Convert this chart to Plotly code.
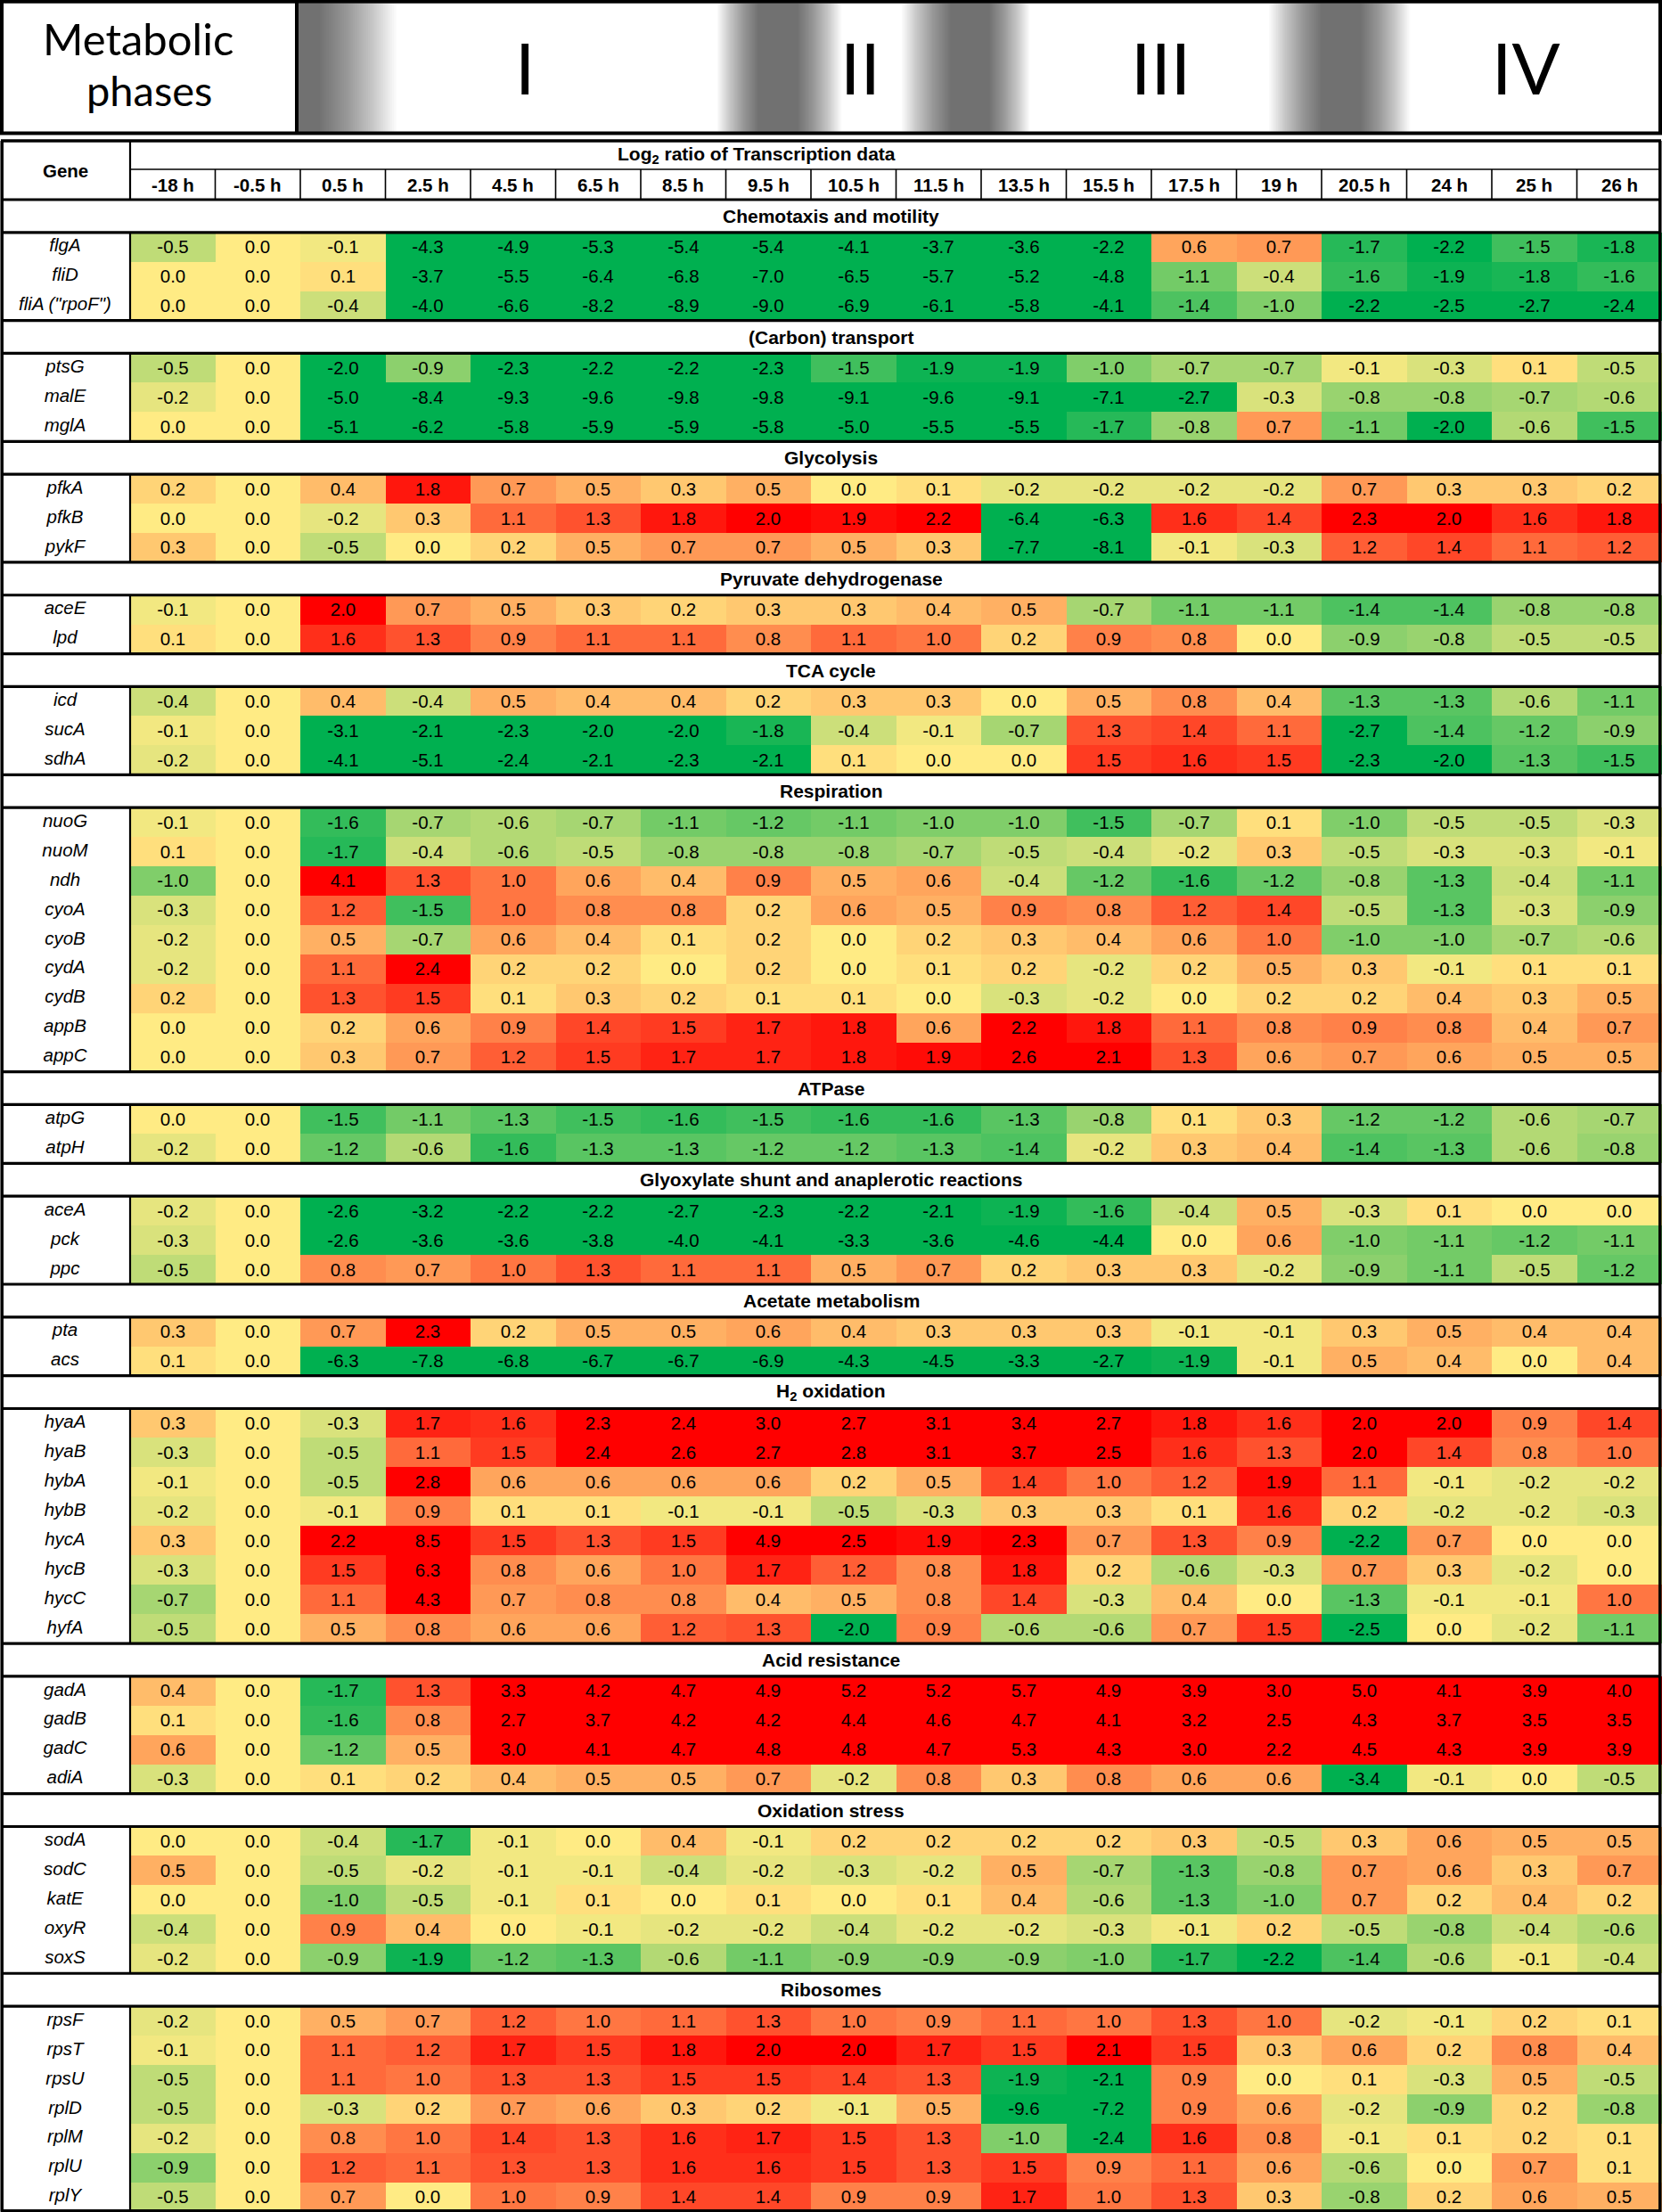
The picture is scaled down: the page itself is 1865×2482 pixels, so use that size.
import math
import plotly.graph_objects as go

# ---------------- data ----------------
time_labels = ["-18 h", "-0.5 h", "0.5 h", "2.5 h", "4.5 h", "6.5 h", "8.5 h", "9.5 h", "10.5 h",
               "11.5 h", "13.5 h", "15.5 h", "17.5 h", "19 h", "20.5 h", "24 h", "25 h", "26 h"]
phase_labels = ["I", "II", "III", "IV"]

chemotaxis_genes = ["flgA", "fliD", 'fliA ("rpoF")']
chemotaxis_values = [
    [-0.5, 0.0, -0.1, -4.3, -4.9, -5.3, -5.4, -5.4, -4.1, -3.7, -3.6, -2.2, 0.6, 0.7, -1.7, -2.2, -1.5, -1.8],
    [0.0, 0.0, 0.1, -3.7, -5.5, -6.4, -6.8, -7.0, -6.5, -5.7, -5.2, -4.8, -1.1, -0.4, -1.6, -1.9, -1.8, -1.6],
    [0.0, 0.0, -0.4, -4.0, -6.6, -8.2, -8.9, -9.0, -6.9, -6.1, -5.8, -4.1, -1.4, -1.0, -2.2, -2.5, -2.7, -2.4],
]
transport_genes = ["ptsG", "malE", "mglA"]
transport_values = [
    [-0.5, 0.0, -2.0, -0.9, -2.3, -2.2, -2.2, -2.3, -1.5, -1.9, -1.9, -1.0, -0.7, -0.7, -0.1, -0.3, 0.1, -0.5],
    [-0.2, 0.0, -5.0, -8.4, -9.3, -9.6, -9.8, -9.8, -9.1, -9.6, -9.1, -7.1, -2.7, -0.3, -0.8, -0.8, -0.7, -0.6],
    [0.0, 0.0, -5.1, -6.2, -5.8, -5.9, -5.9, -5.8, -5.0, -5.5, -5.5, -1.7, -0.8, 0.7, -1.1, -2.0, -0.6, -1.5],
]
glycolysis_genes = ["pfkA", "pfkB", "pykF"]
glycolysis_values = [
    [0.2, 0.0, 0.4, 1.8, 0.7, 0.5, 0.3, 0.5, 0.0, 0.1, -0.2, -0.2, -0.2, -0.2, 0.7, 0.3, 0.3, 0.2],
    [0.0, 0.0, -0.2, 0.3, 1.1, 1.3, 1.8, 2.0, 1.9, 2.2, -6.4, -6.3, 1.6, 1.4, 2.3, 2.0, 1.6, 1.8],
    [0.3, 0.0, -0.5, 0.0, 0.2, 0.5, 0.7, 0.7, 0.5, 0.3, -7.7, -8.1, -0.1, -0.3, 1.2, 1.4, 1.1, 1.2],
]
pdh_genes = ["aceE", "lpd"]
pdh_values = [
    [-0.1, 0.0, 2.0, 0.7, 0.5, 0.3, 0.2, 0.3, 0.3, 0.4, 0.5, -0.7, -1.1, -1.1, -1.4, -1.4, -0.8, -0.8],
    [0.1, 0.0, 1.6, 1.3, 0.9, 1.1, 1.1, 0.8, 1.1, 1.0, 0.2, 0.9, 0.8, 0.0, -0.9, -0.8, -0.5, -0.5],
]
tca_genes = ["icd", "sucA", "sdhA"]
tca_values = [
    [-0.4, 0.0, 0.4, -0.4, 0.5, 0.4, 0.4, 0.2, 0.3, 0.3, 0.0, 0.5, 0.8, 0.4, -1.3, -1.3, -0.6, -1.1],
    [-0.1, 0.0, -3.1, -2.1, -2.3, -2.0, -2.0, -1.8, -0.4, -0.1, -0.7, 1.3, 1.4, 1.1, -2.7, -1.4, -1.2, -0.9],
    [-0.2, 0.0, -4.1, -5.1, -2.4, -2.1, -2.3, -2.1, 0.1, 0.0, 0.0, 1.5, 1.6, 1.5, -2.3, -2.0, -1.3, -1.5],
]
respiration_genes = ["nuoG", "nuoM", "ndh", "cyoA", "cyoB", "cydA", "cydB", "appB", "appC"]
respiration_values = [
    [-0.1, 0.0, -1.6, -0.7, -0.6, -0.7, -1.1, -1.2, -1.1, -1.0, -1.0, -1.5, -0.7, 0.1, -1.0, -0.5, -0.5, -0.3],
    [0.1, 0.0, -1.7, -0.4, -0.6, -0.5, -0.8, -0.8, -0.8, -0.7, -0.5, -0.4, -0.2, 0.3, -0.5, -0.3, -0.3, -0.1],
    [-1.0, 0.0, 4.1, 1.3, 1.0, 0.6, 0.4, 0.9, 0.5, 0.6, -0.4, -1.2, -1.6, -1.2, -0.8, -1.3, -0.4, -1.1],
    [-0.3, 0.0, 1.2, -1.5, 1.0, 0.8, 0.8, 0.2, 0.6, 0.5, 0.9, 0.8, 1.2, 1.4, -0.5, -1.3, -0.3, -0.9],
    [-0.2, 0.0, 0.5, -0.7, 0.6, 0.4, 0.1, 0.2, 0.0, 0.2, 0.3, 0.4, 0.6, 1.0, -1.0, -1.0, -0.7, -0.6],
    [-0.2, 0.0, 1.1, 2.4, 0.2, 0.2, 0.0, 0.2, 0.0, 0.1, 0.2, -0.2, 0.2, 0.5, 0.3, -0.1, 0.1, 0.1],
    [0.2, 0.0, 1.3, 1.5, 0.1, 0.3, 0.2, 0.1, 0.1, 0.0, -0.3, -0.2, 0.0, 0.2, 0.2, 0.4, 0.3, 0.5],
    [0.0, 0.0, 0.2, 0.6, 0.9, 1.4, 1.5, 1.7, 1.8, 0.6, 2.2, 1.8, 1.1, 0.8, 0.9, 0.8, 0.4, 0.7],
    [0.0, 0.0, 0.3, 0.7, 1.2, 1.5, 1.7, 1.7, 1.8, 1.9, 2.6, 2.1, 1.3, 0.6, 0.7, 0.6, 0.5, 0.5],
]
atpase_genes = ["atpG", "atpH"]
atpase_values = [
    [0.0, 0.0, -1.5, -1.1, -1.3, -1.5, -1.6, -1.5, -1.6, -1.6, -1.3, -0.8, 0.1, 0.3, -1.2, -1.2, -0.6, -0.7],
    [-0.2, 0.0, -1.2, -0.6, -1.6, -1.3, -1.3, -1.2, -1.2, -1.3, -1.4, -0.2, 0.3, 0.4, -1.4, -1.3, -0.6, -0.8],
]
glyoxylate_genes = ["aceA", "pck", "ppc"]
glyoxylate_values = [
    [-0.2, 0.0, -2.6, -3.2, -2.2, -2.2, -2.7, -2.3, -2.2, -2.1, -1.9, -1.6, -0.4, 0.5, -0.3, 0.1, 0.0, 0.0],
    [-0.3, 0.0, -2.6, -3.6, -3.6, -3.8, -4.0, -4.1, -3.3, -3.6, -4.6, -4.4, 0.0, 0.6, -1.0, -1.1, -1.2, -1.1],
    [-0.5, 0.0, 0.8, 0.7, 1.0, 1.3, 1.1, 1.1, 0.5, 0.7, 0.2, 0.3, 0.3, -0.2, -0.9, -1.1, -0.5, -1.2],
]
acetate_genes = ["pta", "acs"]
acetate_values = [
    [0.3, 0.0, 0.7, 2.3, 0.2, 0.5, 0.5, 0.6, 0.4, 0.3, 0.3, 0.3, -0.1, -0.1, 0.3, 0.5, 0.4, 0.4],
    [0.1, 0.0, -6.3, -7.8, -6.8, -6.7, -6.7, -6.9, -4.3, -4.5, -3.3, -2.7, -1.9, -0.1, 0.5, 0.4, 0.0, 0.4],
]
h2_genes = ["hyaA", "hyaB", "hybA", "hybB", "hycA", "hycB", "hycC", "hyfA"]
h2_values = [
    [0.3, 0.0, -0.3, 1.7, 1.6, 2.3, 2.4, 3.0, 2.7, 3.1, 3.4, 2.7, 1.8, 1.6, 2.0, 2.0, 0.9, 1.4],
    [-0.3, 0.0, -0.5, 1.1, 1.5, 2.4, 2.6, 2.7, 2.8, 3.1, 3.7, 2.5, 1.6, 1.3, 2.0, 1.4, 0.8, 1.0],
    [-0.1, 0.0, -0.5, 2.8, 0.6, 0.6, 0.6, 0.6, 0.2, 0.5, 1.4, 1.0, 1.2, 1.9, 1.1, -0.1, -0.2, -0.2],
    [-0.2, 0.0, -0.1, 0.9, 0.1, 0.1, -0.1, -0.1, -0.5, -0.3, 0.3, 0.3, 0.1, 1.6, 0.2, -0.2, -0.2, -0.3],
    [0.3, 0.0, 2.2, 8.5, 1.5, 1.3, 1.5, 4.9, 2.5, 1.9, 2.3, 0.7, 1.3, 0.9, -2.2, 0.7, 0.0, 0.0],
    [-0.3, 0.0, 1.5, 6.3, 0.8, 0.6, 1.0, 1.7, 1.2, 0.8, 1.8, 0.2, -0.6, -0.3, 0.7, 0.3, -0.2, 0.0],
    [-0.7, 0.0, 1.1, 4.3, 0.7, 0.8, 0.8, 0.4, 0.5, 0.8, 1.4, -0.3, 0.4, 0.0, -1.3, -0.1, -0.1, 1.0],
    [-0.5, 0.0, 0.5, 0.8, 0.6, 0.6, 1.2, 1.3, -2.0, 0.9, -0.6, -0.6, 0.7, 1.5, -2.5, 0.0, -0.2, -1.1],
]
acid_genes = ["gadA", "gadB", "gadC", "adiA"]
acid_values = [
    [0.4, 0.0, -1.7, 1.3, 3.3, 4.2, 4.7, 4.9, 5.2, 5.2, 5.7, 4.9, 3.9, 3.0, 5.0, 4.1, 3.9, 4.0],
    [0.1, 0.0, -1.6, 0.8, 2.7, 3.7, 4.2, 4.2, 4.4, 4.6, 4.7, 4.1, 3.2, 2.5, 4.3, 3.7, 3.5, 3.5],
    [0.6, 0.0, -1.2, 0.5, 3.0, 4.1, 4.7, 4.8, 4.8, 4.7, 5.3, 4.3, 3.0, 2.2, 4.5, 4.3, 3.9, 3.9],
    [-0.3, 0.0, 0.1, 0.2, 0.4, 0.5, 0.5, 0.7, -0.2, 0.8, 0.3, 0.8, 0.6, 0.6, -3.4, -0.1, 0.0, -0.5],
]
oxstress_genes = ["sodA", "sodC", "katE", "oxyR", "soxS"]
oxstress_values = [
    [0.0, 0.0, -0.4, -1.7, -0.1, 0.0, 0.4, -0.1, 0.2, 0.2, 0.2, 0.2, 0.3, -0.5, 0.3, 0.6, 0.5, 0.5],
    [0.5, 0.0, -0.5, -0.2, -0.1, -0.1, -0.4, -0.2, -0.3, -0.2, 0.5, -0.7, -1.3, -0.8, 0.7, 0.6, 0.3, 0.7],
    [0.0, 0.0, -1.0, -0.5, -0.1, 0.1, 0.0, 0.1, 0.0, 0.1, 0.4, -0.6, -1.3, -1.0, 0.7, 0.2, 0.4, 0.2],
    [-0.4, 0.0, 0.9, 0.4, 0.0, -0.1, -0.2, -0.2, -0.4, -0.2, -0.2, -0.3, -0.1, 0.2, -0.5, -0.8, -0.4, -0.6],
    [-0.2, 0.0, -0.9, -1.9, -1.2, -1.3, -0.6, -1.1, -0.9, -0.9, -0.9, -1.0, -1.7, -2.2, -1.4, -0.6, -0.1, -0.4],
]
ribosome_genes = ["rpsF", "rpsT", "rpsU", "rplD", "rplM", "rplU", "rplY"]
ribosome_values = [
    [-0.2, 0.0, 0.5, 0.7, 1.2, 1.0, 1.1, 1.3, 1.0, 0.9, 1.1, 1.0, 1.3, 1.0, -0.2, -0.1, 0.2, 0.1],
    [-0.1, 0.0, 1.1, 1.2, 1.7, 1.5, 1.8, 2.0, 2.0, 1.7, 1.5, 2.1, 1.5, 0.3, 0.6, 0.2, 0.8, 0.4],
    [-0.5, 0.0, 1.1, 1.0, 1.3, 1.3, 1.5, 1.5, 1.4, 1.3, -1.9, -2.1, 0.9, 0.0, 0.1, -0.3, 0.5, -0.5],
    [-0.5, 0.0, -0.3, 0.2, 0.7, 0.6, 0.3, 0.2, -0.1, 0.5, -9.6, -7.2, 0.9, 0.6, -0.2, -0.9, 0.2, -0.8],
    [-0.2, 0.0, 0.8, 1.0, 1.4, 1.3, 1.6, 1.7, 1.5, 1.3, -1.0, -2.4, 1.6, 0.8, -0.1, 0.1, 0.2, 0.1],
    [-0.9, 0.0, 1.2, 1.1, 1.3, 1.3, 1.6, 1.6, 1.5, 1.3, 1.5, 0.9, 1.1, 0.6, -0.6, 0.0, 0.7, 0.1],
    [-0.5, 0.0, 0.7, 0.0, 1.0, 0.9, 1.4, 1.4, 0.9, 0.9, 1.7, 1.0, 1.3, 0.3, -0.8, 0.2, 0.6, 0.5],
]

section_titles = ["Chemotaxis and motility", "(Carbon) transport", "Glycolysis", "Pyruvate dehydrogenase",
                  "TCA cycle", "Respiration", "ATPase", "Glyoxylate shunt and anaplerotic reactions",
                  "Acetate metabolism", "H<sub>2</sub> oxidation", "Acid resistance", "Oxidation stress",
                  "Ribosomes"]
section_genes = [chemotaxis_genes, transport_genes, glycolysis_genes, pdh_genes, tca_genes,
                 respiration_genes, atpase_genes, glyoxylate_genes, acetate_genes, h2_genes,
                 acid_genes, oxstress_genes, ribosome_genes]
section_values = [chemotaxis_values, transport_values, glycolysis_values, pdh_values, tca_values,
                  respiration_values, atpase_values, glyoxylate_values, acetate_values, h2_values,
                  acid_values, oxstress_values, ribosome_values]

# ---------------- layout constants (pixels) ----------------
W, H = 1865, 2482
GENE_W = 146.0
NCOL = len(time_labels)
COL_W = (W - GENE_W) / NCOL
T_TOP, T_MID, T_HDR = 158.0, 190.0, 224.0
SEC_H, ROW_H = 36.8, 32.95
BOX_BOTTOM = 149.5
DIVIDER_X = 333.0
FONT = "Liberation Sans, Arial, sans-serif"
CAL = "Lato, Carlito, sans-serif"

x_edges = [GENE_W + i * COL_W for i in range(NCOL + 1)]
x_centers = [(x_edges[i] + x_edges[i + 1]) / 2 for i in range(NCOL)]

y_edges = [T_HDR]
z_rows, text_rows = [], []
gene_y, gene_lbl = [], []
sec_centers, sec_bands, data_blocks = [], [], []
y = T_HDR
for title, genes, vals in zip(section_titles, section_genes, section_values):
    top = y
    y += SEC_H
    y_edges.append(y)
    z_rows.append([None] * NCOL)
    text_rows.append([""] * NCOL)
    sec_centers.append((top + y) / 2)
    sec_bands.append((top, y))
    b0 = y
    for g, v in zip(genes, vals):
        y0 = y
        y += ROW_H
        y_edges.append(y)
        z_rows.append(v)
        text_rows.append([f"{a:.1f}" for a in v])
        gene_y.append((y0 + y) / 2)
        gene_lbl.append(f"<i>{g}</i>")
    data_blocks.append((b0, y))
T_BOTTOM = y

fig = go.Figure()

fig.add_trace(go.Heatmap(
    x=x_edges, y=y_edges, z=z_rows,
    text=text_rows, texttemplate="%{text}",
    textfont=dict(family=FONT, size=20.5, color="black"),
    colorscale=[[0.0, "rgb(0,176,80)"], [0.5, "rgb(255,235,132)"], [1.0, "rgb(255,0,0)"]],
    zmin=-2, zmax=2, zmid=0, showscale=False, hoverinfo="skip",
))

fig.add_trace(go.Scatter(
    x=[GENE_W / 2] * len(gene_y), y=gene_y, text=gene_lbl, mode="text",
    textfont=dict(family=FONT, size=20.5, color="black"),
    hoverinfo="skip", showlegend=False,
))

shapes = []

# ---- blurred phase separators in the header band (linear ramps) ----
stripes = [(335.0, 358.0, 0.0, 88.0), (851.0, 895.0, 47.0, 50.0),
           (1067.0, 1110.0, 56.0, 46.0), (1483.0, 1527.0, 60.0, 56.0)]
NL = 36
alpha = 1 - 0.5 ** (1.0 / NL)
for cs, ce, lr, rr in stripes:
    for k in range(NL):
        ext = 1.0 - (k + 0.5) / NL
        x0 = max(cs - lr * ext, DIVIDER_X)
        x1 = ce + rr * ext
        shapes.append(dict(type="rect", xref="x", yref="y", x0=x0, x1=x1, y0=3.5, y1=BOX_BOTTOM - 1.5,
                           fillcolor=f"rgba(0,0,0,{alpha:.4f})", line=dict(width=0), layer="above"))

def hline(yv, x0, x1, w):
    shapes.append(dict(type="line", xref="x", yref="y", x0=x0, x1=x1, y0=yv, y1=yv,
                       line=dict(color="black", width=w)))

def vline(xv, y0, y1, w):
    shapes.append(dict(type="line", xref="x", yref="y", x0=xv, x1=xv, y0=y0, y1=y1,
                       line=dict(color="black", width=w)))

# header box
shapes.append(dict(type="rect", xref="x", yref="y", x0=2, x1=W - 2, y0=1.8, y1=BOX_BOTTOM,
                   line=dict(color="black", width=4), fillcolor="rgba(0,0,0,0)"))
vline(DIVIDER_X, 1.8, BOX_BOTTOM, 4)

# table frame and header grid
hline(T_TOP, 1, W - 1, 3.5)
hline(T_MID, GENE_W, W - 2, 1.6)
for xe in x_edges[1:-1]:
    vline(xe, T_MID, T_HDR, 1.6)
vline(GENE_W, T_TOP, T_HDR, 2.2)
for (a, b) in sec_bands:
    hline(a, 1, W - 1, 3.2)
    hline(b, 1, W - 1, 3.2)
for (a, b) in data_blocks:
    vline(GENE_W, a, b, 2.2)
hline(T_BOTTOM - 1, 1, W - 1, 3.2)
vline(2.2, T_TOP, T_BOTTOM, 3.5)
vline(W - 2.2, T_TOP, T_BOTTOM, 3.5)

annotations = []

def ann(x, y, text, size, family=FONT, bold=False):
    annotations.append(dict(x=x, y=y, xref="x", yref="y", text=(f"<b>{text}</b>" if bold else text),
                            showarrow=False, xanchor="center", yanchor="middle",
                            font=dict(family=family, size=size, color="black")))

ann(155, 43, "Metabolic", 49, CAL)
ann(167, 101, "phases", 47, CAL)
for lbl, xc in zip(phase_labels, [589, 965, 1302, 1712]):
    ann(xc, 75, lbl, 80, CAL)

ann(GENE_W / 2, (T_TOP + T_HDR) / 2, "Gene", 20.5, bold=True)
ann(849, (T_TOP + T_MID) / 2, "Log<sub>2</sub> ratio of Transcription data", 21, bold=True)
for lbl, xc in zip(time_labels, x_centers):
    ann(xc, (T_MID + T_HDR) / 2, lbl, 20.5, bold=True)
for title, yc in zip(section_titles, sec_centers):
    ann(W / 2, yc, title, 21, bold=True)

fig.update_layout(
    width=W, height=H, margin=dict(l=0, r=0, t=0, b=0, pad=0),
    paper_bgcolor="white", plot_bgcolor="white",
    xaxis=dict(range=[0, W], visible=False, fixedrange=True, domain=[0, 1]),
    yaxis=dict(range=[H, 0], visible=False, fixedrange=True, domain=[0, 1]),
    shapes=shapes, annotations=annotations, showlegend=False,
)

fig.write_html("out.html", config={"displayModeBar": False},
               post_script="document.body.style.margin='0';document.body.style.overflow='hidden';")
